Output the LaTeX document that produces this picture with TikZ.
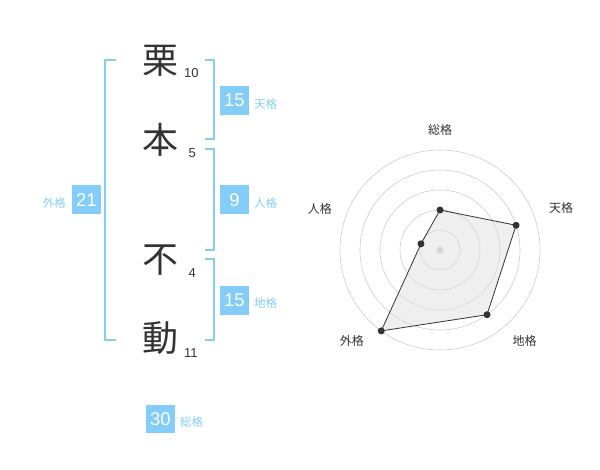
\documentclass[tikz,border=0pt]{standalone}
\usepackage{fontspec}
\setmainfont{Liberation Sans}
\newfontfamily\cjk{Noto Sans CJK JP}
\definecolor{kblue}{HTML}{84CDF8}
\definecolor{kdark}{HTML}{333333}
\definecolor{ring}{HTML}{CCCCCC}
\begin{document}
\begin{tikzpicture}[x=1pt,y=-1pt,
  kanji/.style={font=\cjk\fontsize{36}{36}\selectfont, text=kdark, inner sep=0pt},
  strokes/.style={font=\fontsize{13}{13}\selectfont, text=kdark, inner sep=0pt, anchor=west},
  numbox/.style={fill=kblue, text=white, font=\fontsize{18.5}{18.5}\selectfont, minimum width=29pt, minimum height=29pt, inner sep=0pt},
  kaku/.style={font=\cjk\fontsize{11.5}{11.5}\selectfont, text=kblue, inner sep=0pt},
  brk/.style={draw=kblue, line width=2pt},
  rlabel/.style={font=\cjk\fontsize{12}{12}\selectfont, text=kdark, inner sep=0pt},
  ringline/.style={draw=ring, line width=0.6pt},
  vdot/.style={circle, fill=kdark, inner sep=0pt, minimum size=7pt}]
\useasboundingbox (0,0) rectangle (600,470);
% kanji
\node[kanji] (k1) at (160,61) {栗};
\node[kanji] (k2) at (160,140) {本};
\node[kanji] (k3) at (160,260) {不};
\node[kanji] (k4) at (160,338) {動};
\node[strokes] (s1) at (184,73) {10};
\node[strokes] (s2) at (188.5,153) {5};
\node[strokes] (s3) at (188.5,273) {4};
\node[strokes] (s4) at (184,353) {11};
% brackets
\draw[brk] (116,60) -- (105,60) -- (105,340) -- (116,340);
\draw[brk] (205,60) -- (214,60) -- (214,139) -- (205,139);
\draw[brk] (205,149.5) -- (214,149.5) -- (214,250) -- (205,250);
\draw[brk] (205,259.5) -- (214,259.5) -- (214,340) -- (205,340);
% boxes
\node[numbox] (ten) at (234.5,100.5) {15};
\node[kaku, anchor=west] (tenl) at (254,104) {天格};
\node[numbox] (jin) at (234.5,200) {9};
\node[kaku, anchor=west] (jinl) at (254,203) {人格};
\node[numbox] (chi) at (234.5,300.5) {15};
\node[kaku, anchor=west] (chil) at (254,303) {地格};
\node[numbox] (gai) at (86.5,200) {21};
\node[kaku, anchor=east] (gail) at (66,203) {外格};
\node[numbox, minimum height=28pt] (sou) at (160.5,419) {30};
\node[kaku, anchor=west] (soul) at (180,422) {総格};
% radar
\begin{scope}[shift={(440,250)}, yscale=-1]
  \foreach \r in {20,40,60,80,100} \draw[ringline] (0,0) circle (\r);
  \fill[ring] (0,0) circle (3.5);
  \coordinate (pa) at (90:40);
  \coordinate (pb) at (18:80);
  \coordinate (pc) at (-54:80);
  \coordinate (pd) at (-126:100);
  \coordinate (pe) at (162:20);
  \filldraw[fill=gray!25, fill opacity=0.5, draw=kdark, line width=0.8pt]
    (pa) -- (pb) -- (pc) -- (pd) -- (pe) -- cycle;
  \foreach \p in {pa,pb,pc,pd,pe} \node[vdot] at (\p) {};
  \node[rlabel] (la) at (90:120) {総格};
  \node[rlabel] (lb) at (19:128) {天格};
  \node[rlabel] (lc) at (-47:124) {地格};
  \node[rlabel] (ld) at (-134:127) {外格};
  \node[rlabel] (le) at (161:127) {人格};
\end{scope}
\end{tikzpicture}
\end{document}
